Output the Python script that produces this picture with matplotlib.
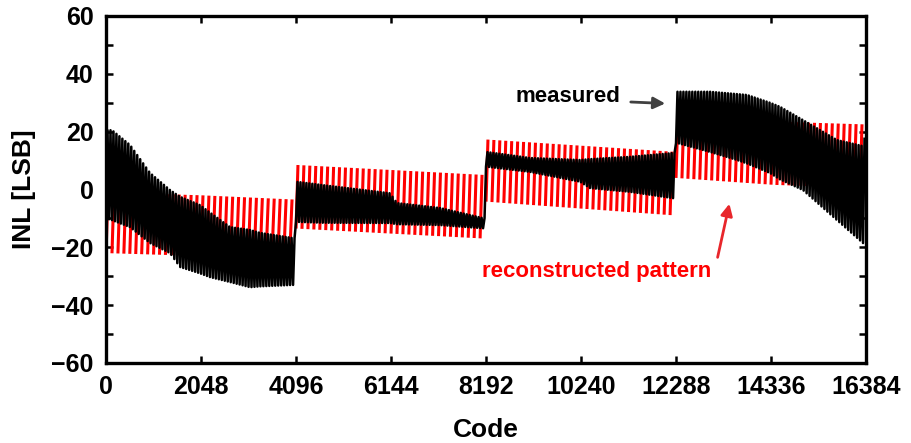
import numpy as np
import matplotlib
matplotlib.use('Agg')
import matplotlib.pyplot as plt
from matplotlib.ticker import MultipleLocator, FixedLocator

plt.rcParams['font.family'] = ['Liberation Sans', 'DejaVu Sans']
plt.rcParams['font.weight'] = 'bold'

# ---------------- data ----------------
segment_edges = [0, 4096, 8192, 12288, 16384]
tooth_period = 128          # codes per tooth of the pattern
x_ticks = [0, 2048, 4096, 6144, 8192, 10240, 12288, 14336, 16384]
y_ticks = [-60, -40, -20, 0, 20, 40, 60]

# reconstructed pattern (red): tooth top / bottom envelope per segment
red_codes = [[0, 2048, 4096], [4096, 8192], [8192, 12288], [12288, 14400, 16384]]
red_upper = [[-1.0, -2.0, -3.5], [8.5, 5.0], [17.3, 13.0], [26.0, 23.5, 22.5]]
red_lower = [[-22.0, -23.0, -19.5], [-13.5, -17.0], [-4.2, -9.0], [4.0, 1.6, 0.5]]

# measured INL (black): upper / lower envelope per segment
blk_codes = [
    [0, 129, 517, 949, 1380, 1595, 2026, 2242, 2673, 3104, 3320, 4031, 4096],
    [4096, 4678, 6122, 6273, 7200, 8127, 8192],
    [8192, 9141, 10219, 10434, 11296, 12223, 12288],
    [12288, 12331, 13021, 13603, 13819, 14315, 14530, 15026, 15759, 16319, 16384],
]
blk_upper = [
    [20.5, 20.5, 15.4, 5.7, -0.2, -2.5, -5.4, -8.0, -13.0, -14.0, -15.0, -16.8, -16.8],
    [2.7, 1.5, -1.3, -4.7, -6.4, -9.9, -9.9],
    [13.0, 10.9, 10.2, 10.5, 11.3, 12.6, 12.6],
    [33.8, 33.8, 33.8, 33.0, 32.7, 30.0, 28.6, 24.0, 17.1, 15.0, 20.0],
]
blk_lower = [
    [-10.0, -10.6, -13.0, -18.5, -22.0, -26.8, -29.0, -30.3, -32.0, -33.8, -33.5, -33.0, -33.0],
    [-11.2, -11.5, -11.6, -12.0, -12.3, -13.4, -13.4],
    [7.9, 6.1, 2.7, 0.5, -0.8, -3.0, -3.0],
    [16.0, 16.0, 13.0, 10.2, 9.0, 5.7, 3.5, -0.2, -10.6, -18.5, -20.0],
]

# ---------------- build the traces ----------------
rx, ry = [], []
for i in range(4):
    s0, s1 = segment_edges[i], segment_edges[i + 1]
    for s in range(s0, s1, tooth_period):
        top = s + tooth_period // 3
        rx += [s, top, np.nan]
        ry += [np.interp(s, red_codes[i], red_lower[i]),
               np.interp(top, red_codes[i], red_upper[i]), np.nan]

bx, by = [], []
half = tooth_period // 4
for i in range(4):
    s0, s1 = segment_edges[i], segment_edges[i + 1]
    pts = np.arange(s0, s1, half)
    for j, c in enumerate(pts):
        env = blk_lower[i] if j % 2 == 0 else blk_upper[i]
        bx.append(c)
        by.append(np.interp(c, blk_codes[i], env))

# ---------------- figure ----------------
fig = plt.figure(figsize=(9.11, 4.43), dpi=100)
ax = fig.add_axes([0.1164, 0.1806, 0.9506 - 0.1164, 0.9639 - 0.1806])

ax.plot(rx, ry, color='#ff0000', lw=2.2, solid_capstyle='butt', zorder=2)
ax.plot(bx, by, color='black', lw=1.8, zorder=3)

ax.set_xlim(0, 16384)
ax.set_ylim(-60, 60)
ax.xaxis.set_major_locator(FixedLocator(x_ticks))
ax.yaxis.set_major_locator(FixedLocator(y_ticks))
ax.yaxis.set_minor_locator(MultipleLocator(10))
ax.tick_params(which='both', direction='in', top=True, right=True,
               length=5, width=1.8, labelsize=18, pad=9)
for sp in ax.spines.values():
    sp.set_linewidth(2.4)
for lab in ax.get_xticklabels() + ax.get_yticklabels():
    lab.set_fontweight('bold')

ax.set_xlabel('Code', fontsize=19, fontweight='bold', labelpad=13)
ax.set_ylabel('INL [LSB]', fontsize=19, fontweight='bold', labelpad=11)

ax.annotate('', xy=(12115, 29.7), xytext=(11253, 30.3),
            arrowprops=dict(arrowstyle='-|>,head_length=0.7,head_width=0.35',
                            color='#404040', lw=2))
ax.text(9960, 32.3, 'measured', fontsize=16, fontweight='bold',
        ha='center', va='center', color='black')
ax.annotate('', xy=(13452, -4.0), xytext=(13172, -24.4),
            arrowprops=dict(arrowstyle='-|>,head_length=0.7,head_width=0.35',
                            color='#e8262b', lw=2))
ax.text(10585, -28.2, 'reconstructed pattern', fontsize=16, fontweight='bold',
        ha='center', va='center', color='#ff0000')

fig.savefig('out.png', dpi=100)
